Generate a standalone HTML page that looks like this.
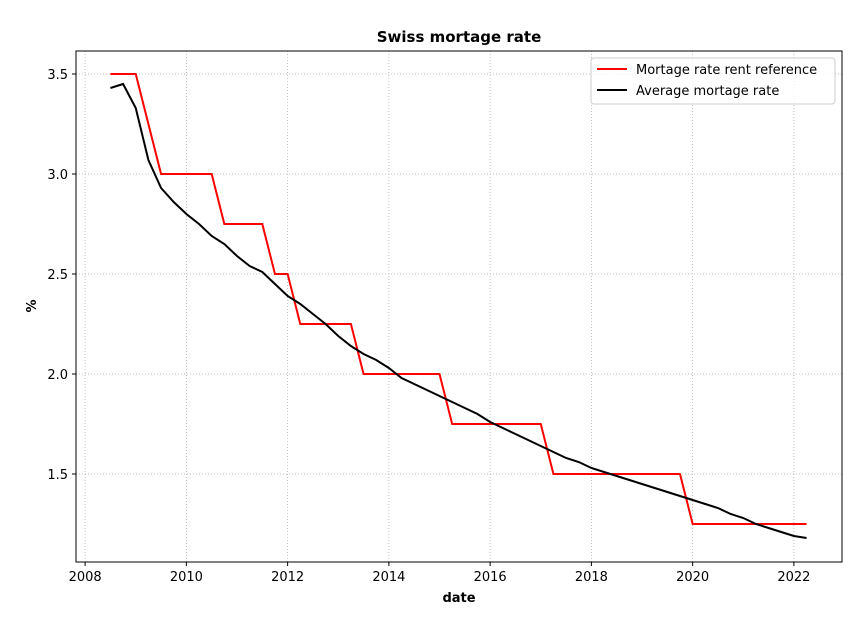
<!DOCTYPE html>
<html><head><meta charset="utf-8"><style>
body{margin:0;background:#fff;}
svg text{font-family:"DejaVu Sans","Liberation Sans",sans-serif;}
</style></head><body>
<svg id="chart" width="861" height="619" xmlns="http://www.w3.org/2000/svg">
<rect width="861" height="619" fill="#fff"/>
<g id="grid"></g>
<g id="series"></g>
<rect x="76" y="51" width="766" height="511" fill="none" stroke="#000" stroke-width="1"/>
<g id="ticks"></g>
<text x="459" y="42" text-anchor="middle" font-size="15" font-weight="bold">Swiss mortage rate</text>
<text x="459" y="602" text-anchor="middle" font-size="13" font-weight="bold">date</text>
<text transform="translate(36,306) rotate(-90)" text-anchor="middle" font-size="13" font-weight="bold">%</text>
<g>
<rect x="591" y="58" width="244" height="46" rx="3" fill="#fff" fill-opacity="0.8" stroke="#ccc"/>
<line x1="597" y1="69" x2="627" y2="69" stroke="#f00" stroke-width="2"/>
<text x="636" y="74" font-size="13">Mortage rate rent reference</text>
<line x1="597" y1="90" x2="627" y2="90" stroke="#000" stroke-width="2"/>
<text x="636" y="95" font-size="13">Average mortage rate</text>
</g>
</svg>
<script>
const dates = [2008.5,2008.75,2009,2009.25,2009.5,2009.75,2010,2010.25,2010.5,2010.75,2011,2011.25,2011.5,2011.75,2012,2012.25,2012.5,2012.75,2013,2013.25,2013.5,2013.75,2014,2014.25,2014.5,2014.75,2015,2015.25,2015.5,2015.75,2016,2016.25,2016.5,2016.75,2017,2017.25,2017.5,2017.75,2018,2018.25,2018.5,2018.75,2019,2019.25,2019.5,2019.75,2020,2020.25,2020.5,2020.75,2021,2021.25,2021.5,2021.75,2022,2022.25];
const refRate = [3.5,3.5,3.5,3.25,3.0,3.0,3.0,3.0,3.0,2.75,2.75,2.75,2.75,2.5,2.5,2.25,2.25,2.25,2.25,2.25,2.0,2.0,2.0,2.0,2.0,2.0,2.0,1.75,1.75,1.75,1.75,1.75,1.75,1.75,1.75,1.5,1.5,1.5,1.5,1.5,1.5,1.5,1.5,1.5,1.5,1.5,1.25,1.25,1.25,1.25,1.25,1.25,1.25,1.25,1.25,1.25];
const avgRate = [3.43,3.45,3.33,3.07,2.93,2.86,2.80,2.75,2.69,2.65,2.59,2.54,2.51,2.45,2.39,2.35,2.30,2.25,2.19,2.14,2.10,2.07,2.03,1.98,1.95,1.92,1.89,1.86,1.83,1.80,1.76,1.73,1.70,1.67,1.64,1.61,1.58,1.56,1.53,1.51,1.49,1.47,1.45,1.43,1.41,1.39,1.37,1.35,1.33,1.30,1.28,1.25,1.23,1.21,1.19,1.18];
const xTicks = [2008,2010,2012,2014,2016,2018,2020,2022];
const yTicks = [1.5,2.0,2.5,3.0,3.5];

const X0=76,X1=842,Y0=51,Y1=562;
const xMin=2007.82,xMax=2022.95,yMin=1.06,yMax=3.615;
const xs=v=>X0+(v-xMin)/(xMax-xMin)*(X1-X0);
const ys=v=>Y1-(v-yMin)/(yMax-yMin)*(Y1-Y0);
const NS="http://www.w3.org/2000/svg";
const grid=document.getElementById('grid'),ticks=document.getElementById('ticks'),ser=document.getElementById('series');
function mk(tag,attrs,parent){const e=document.createElementNS(NS,tag);for(const k in attrs)e.setAttribute(k,attrs[k]);parent.appendChild(e);return e;}
xTicks.forEach(t=>{const x=xs(t);
 const g=mk('line',{x1:x,x2:x,y1:Y0,y2:Y1,stroke:'#b0b0b0','stroke-width':0.8,'stroke-dasharray':'1,2'},grid);
 
 
 mk('line',{x1:x,x2:x,y1:Y1,y2:Y1+4,stroke:'#000'},ticks);
 const tx=mk('text',{x:x,y:Y1+19,'text-anchor':'middle','font-size':13},ticks);tx.textContent=t;
 
 
});
yTicks.forEach(t=>{const y=ys(t);
 const g=mk('line',{x1:X0,x2:X1,y1:y,y2:y,stroke:'#b0b0b0','stroke-width':0.8,'stroke-dasharray':'1,2'},grid);
 
 
 mk('line',{x1:X0-4,x2:X0,y1:y,y2:y,stroke:'#000'},ticks);
 const tx=mk('text',{x:X0-8,y:y+5,'text-anchor':'end','font-size':13},ticks);tx.textContent=t.toFixed(1);
 
 
});
function line(vals,color,name){
 const p=mk('polyline',{points:dates.map((d,i)=>xs(d)+','+ys(vals[i])).join(' '),fill:'none',stroke:color,'stroke-width':2},ser);
 
 
}
line(refRate,'#f00','rent-reference-line');
line(avgRate,'#000','average-rate-line');
</script>
</body></html>
